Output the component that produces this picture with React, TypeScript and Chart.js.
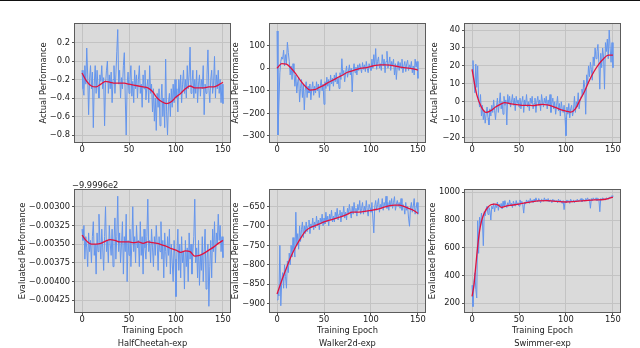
import { useEffect, useRef } from "react";
import { Chart, registerables } from "chart.js";

Chart.register(...registerables);

const FONT = "'DejaVu Sans', 'Liberation Sans', sans-serif";
const MINUS = "\u2212";
const BG = "#dadada";
const GRID = "#c3c3c3";
const TEXT = "#222222";
const BLUE = "#6495ed";
const RED = "#e0123f";

// ---------- data ----------
const EPOCHS = Array.from({ length: 151 }, (_, i) => i);
const X_TICKS = [0, 50, 100, 150];
const SMOOTH_EPOCHS = [0, 5, 10, 15, 20, 25, 30, 35, 40, 45, 50, 55, 60, 65, 70, 75, 80, 85, 90, 95, 100, 105, 110, 115, 120, 125, 130, 135, 140, 145, 150];
const SWIM_EVAL_SMOOTH_EPOCHS = [0, 2, 4, 6, 8, 10, 13, 16, 20, 24, 28, 31, 35, 40, 50, 60, 70, 80, 90, 100, 110, 120, 130, 140, 145, 150];

const X_LABEL = "Training Epoch";
const TASKS = ["HalfCheetah-exp", "Walker2d-exp", "Swimmer-exp"];
const Y_LABEL_TOP = "Actual Performance";
const Y_LABEL_BOTTOM = "Evaluated Performance";
const HC_EVAL_OFFSET = "\u22129.9996e2";

const HC_ACTUAL = [
  -0.10, -0.30, -0.37, -0.05, -0.25, 0.14, -0.15, -0.58, -0.20, -0.05,
  -0.30, -0.12, -0.72, -0.25, -0.05, -0.35, -0.10, -0.28, -0.40, -0.15,
  -0.22, -0.05, -0.30, -0.18, -0.70, -0.25, -0.10, 0.00, -0.35, -0.15,
  -0.30, -0.12, -0.45, -0.20, -0.05, -0.35, -0.15, 0.10, 0.34, -0.25,
  -0.10, -0.40, -0.18, -0.30, -0.05, 0.09, -0.40, -0.80, -0.25, -0.12,
  -0.35, -0.20, -0.05, -0.38, -0.22, -0.45, -0.10, -0.30, -0.15, -0.40,
  -0.20, -0.05, -0.35, -0.25, -0.50, -0.15, -0.30, -0.10, -0.42, -0.28,
  -0.20, -0.45, -0.05, -0.35, -0.25, -0.55, -0.30, -0.65, -0.40, -0.75,
  -0.35, -0.50, -0.30, -0.70, -0.45, -0.25, -0.60, -0.40, -0.72, 0.02,
  -0.55, -0.80, -0.45, -0.35, -0.60, -0.30, -0.50, -0.25, -0.45, -0.20,
  -0.40, -0.30, -0.55, -0.20, -0.35, -0.15, -0.45, -0.25, -0.10, -0.35,
  -0.20, -0.40, -0.05, -0.30, -0.15, 0.15, -0.35, -0.25, -0.10, -0.40,
  -0.20, -0.35, -0.10, -0.45, -0.25, -0.15, -0.38, -0.20, -0.30, -0.05,
  -0.58, -0.25, -0.35, -0.15, 0.12, -0.30, -0.45, -0.20, -0.10, -0.35,
  -0.25, 0.05, -0.40, -0.15, -0.30, -0.10, -0.35, -0.20, -0.45, -0.25, -0.46,
];
const HC_ACTUAL_SMOOTH = [
  -0.13, -0.22, -0.27, -0.28, -0.25, -0.22, -0.23, -0.24, -0.24, -0.24,
  -0.25, -0.26, -0.27, -0.28, -0.29, -0.33, -0.40, -0.44, -0.46, -0.44,
  -0.39, -0.35, -0.30, -0.27, -0.29, -0.29, -0.29, -0.28, -0.28, -0.26, -0.23,
];
const HC_ACTUAL_TICKS = [0.2, 0.0, -0.2, -0.4, -0.6, -0.8];

const WK_ACTUAL = [
  165, -296, -150, -20, 30, 50, 40, 80, 10, 60,
  20, 115, 70, 30, -30, 10, -50, 20, -20, -80,
  -30, -110, -60, -40, -150, -90, -50, -130, -70, -185,
  -100, -60, -130, -80, -110, -70, -140, -90, -60, -120,
  -80, -110, -60, -100, -70, -130, -80, -50, -100, -70,
  -160, -60, -90, -40, -80, -50, -100, -30, -70, -45,
  -80, -30, -60, -20, -70, -40, -90, -20, -50, 42,
  -30, -10, -60, -20, 10, -40, -15, 15, -30, 0,
  -105, -10, 20, -20, 5, -30, 15, -10, 20, 0,
  -20, 25, -5, 15, -15, 30, 0, -20, 20, 5,
  -10, 40, 0, 60, 10, 87, -5, 30, 50, 0,
  20, -10, 60, 10, 40, -20, 30, 75, 0, 20,
  50, -10, 30, 10, 40, -30, 20, -50, 10, 30,
  -10, 25, 0, 40, -20, 10, 30, -15, 20, 35,
  -10, 15, 0, 30, -20, 10, -30, 40, 5, 30, -45,
];
const WK_ACTUAL_SMOOTH = [
  0, 20, 18, 0, -25, -55, -80, -97, -95, -85,
  -75, -62, -52, -40, -30, -18, -12, -5, 0, 3,
  8, 13, 15, 15, 14, 10, 6, 3, 0, -3, -8,
];
const WK_ACTUAL_TICKS = [100, 0, -100, -200, -300];

const SW_ACTUAL = [
  18, 23, 12, 5, 21, 8, 20, 2, -3, 4,
  -8, -2, -10, -5, -12, -7, -3, -9, -13, -4,
  -8, -2, -6, 1, -5, -10, -3, 2, -6, -1,
  5, -4, 0, -7, 3, -2, 1, -13, 4, -1,
  3, -3, 0, 4, -2, 2, -5, 3, -1, 1,
  -3, 2, -4, 0, 3, -6, 1, -2, 4, -3,
  0, -5, 2, -1, 3, -4, -1, 2, -6, 0,
  3, -2, 1, -5, 4, 0, -3, 2, -1, 3,
  -4, 1, -2, 4, -6, -1, 2, -4, 0, -7,
  -2, 3, -5, -1, -8, 0, -4, -6, -2, -9,
  -19, -3, -7, -1, -9, -4, -2, -8, -5, 3,
  -6, 0, -3, 5, -4, 1, 3, 7, 4, 12,
  8, -7, 15, 10, 20, 14, 22, 18, 12, 25,
  20, 30, 24, 28, 32, 22, 7, 27, 19, 30,
  25, 7, 33, 28, 35, 24, 40, 30, 22, 33, 19,
];
const SW_ACTUAL_SMOOTH = [
  18, 4, -3, -6, -5, -3, -1.5, -0.5, -1, -1.5,
  -1.8, -2, -2, -2.2, -1.8, -1.5, -1.8, -2.5, -3.5, -4.5,
  -5.2, -5.8, -4, 1, 6, 12, 17, 21, 24, 26, 26,
];
const SW_ACTUAL_TICKS = [40, 30, 20, 10, 0, -10, -20];

// HalfCheetah evaluated performance, shown relative to -9.9996e2
const HC_EVAL = [
  -0.00330, -0.00345, -0.00325, -0.00370, -0.00340, -0.00355, -0.00380, -0.00335, -0.00360, -0.00345,
  -0.00375, -0.00340, -0.00320, -0.00365, -0.00350, -0.00390, -0.00335, -0.00360, -0.00310, -0.00345,
  -0.00370, -0.00330, -0.00355, -0.00385, -0.00340, -0.00300, -0.00360, -0.00345, -0.00375, -0.00325,
  -0.00350, -0.00365, -0.00330, -0.00380, -0.00345, -0.00315, -0.00370, -0.00340, -0.00286, -0.00360,
  -0.00335, -0.00375, -0.00350, -0.00320, -0.00390, -0.00340, -0.00360, -0.00310, -0.00400, -0.00345,
  -0.00365, -0.00330, -0.00380, -0.00350, -0.00300, -0.00360, -0.00340, -0.00375, -0.00325, -0.00355,
  -0.00345, -0.00380, -0.00320, -0.00365, -0.00340, -0.00390, -0.00330, -0.00355, -0.00370, -0.00340,
  -0.00290, -0.00360, -0.00345, -0.00375, -0.00330, -0.00355, -0.00380, -0.00340, -0.00365, -0.00325,
  -0.00350, -0.00385, -0.00340, -0.00360, -0.00320, -0.00370, -0.00345, -0.00395, -0.00335, -0.00360,
  -0.00380, -0.00340, -0.00365, -0.00330, -0.00390, -0.00350, -0.00375, -0.00400, -0.00345, -0.00370,
  -0.00420, -0.00360, -0.00330, -0.00385, -0.00350, -0.00395, -0.00340, -0.00375, -0.00360, -0.00410,
  -0.00345, -0.00380, -0.00355, -0.00400, -0.00335, -0.00370, -0.00350, -0.00390, -0.00360, -0.00340,
  -0.00290, -0.00375, -0.00355, -0.00395, -0.00345, -0.00405, -0.00365, -0.00385, -0.00340, -0.00400,
  -0.00360, -0.00330, -0.00410, -0.00370, -0.00350, -0.00433, -0.00380, -0.00345, -0.00395, -0.00330,
  -0.00360, -0.00320, -0.00375, -0.00335, -0.00350, -0.00310, -0.00345, -0.00325, -0.00360, -0.00340, -0.00368,
];
const HC_EVAL_SMOOTH = [
  -0.00338, -0.00346, -0.00350, -0.00350, -0.00349, -0.00346, -0.00344, -0.00345, -0.00347, -0.00347,
  -0.00347, -0.00348, -0.00347, -0.00349, -0.00347, -0.00348, -0.00349, -0.00351, -0.00353, -0.00356,
  -0.00358, -0.00361, -0.00359, -0.00360, -0.00366, -0.00365, -0.00362, -0.00358, -0.00354, -0.00349, -0.00345,
];
const HC_EVAL_TICKS = [-0.003, -0.00325, -0.0035, -0.00375, -0.004, -0.00425];

const WK_EVAL = [
  -890, -870, -880, -750, -905, -840, -820, -860, -800, -830,
  -860, -790, -820, -770, -800, -750, -780, -730, -760, -780,
  -665, -750, -720, -760, -700, -740, -710, -690, -730, -700,
  -720, -690, -715, -700, -685, -720, -695, -705, -680, -710,
  -690, -705, -675, -700, -685, -710, -680, -695, -670, -700,
  -680, -695, -665, -690, -675, -700, -670, -685, -660, -690,
  -675, -690, -665, -680, -655, -685, -670, -660, -690, -665,
  -675, -650, -680, -665, -685, -655, -670, -645, -665, -680,
  -650, -670, -640, -665, -655, -675, -645, -660, -635, -670,
  -655, -640, -670, -650, -665, -635, -660, -675, -645, -655,
  -665, -640, -680, -718, -650, -635, -660, -645, -630, -665,
  -645, -655, -630, -660, -640, -650, -624, -655, -640, -660,
  -635, -650, -630, -655, -640, -625, -660, -645, -635, -650,
  -640, -655, -630, -660, -645, -650, -670, -640, -660, -650,
  -680, -701, -655, -640, -665, -650, -630, -670, -655, -640, -670,
];
const WK_EVAL_SMOOTH = [
  -875, -840, -808, -778, -753, -732, -714, -705, -700, -695,
  -690, -686, -683, -679, -675, -670, -665, -665, -664, -662,
  -660, -658, -655, -651, -648, -647, -647, -650, -655, -660, -668,
];
const WK_EVAL_TICKS = [-650, -700, -750, -800, -850, -900];

const SW_EVAL = [
  330, 176, 350, 420, 300, 238, 795, 560, 820, 750,
  850, 800, 615, 860, 830, 880, 900, 840, 890, 870,
  800, 900, 880, 920, 860, 910, 890, 930, 870, 915,
  895, 920, 880, 935, 900, 940, 910, 890, 925, 900,
  945, 905, 920, 890, 935, 915, 900, 940, 910, 925,
  900, 945, 920, 935, 910, 850, 930, 915, 945, 925,
  940, 920, 955, 930, 945, 925, 950, 935, 960, 940,
  930, 955, 940, 925, 950, 945, 935, 960, 940, 950,
  935, 955, 930, 945, 940, 925, 950, 935, 945, 930,
  940, 925, 950, 935, 945, 930, 920, 940, 875, 935,
  925, 945, 930, 940, 920, 950, 935, 930, 945, 925,
  940, 930, 950, 935, 945, 940, 955, 930, 950, 945,
  935, 955, 945, 960, 940, 950, 885, 955, 940, 960,
  950, 945, 960, 940, 955, 950, 860, 955, 945, 960,
  955, 950, 945, 960, 955, 950, 965, 960, 970, 975, 970,
];
const SW_EVAL_SMOOTH = [
  250, 330, 470, 610, 720, 790, 850, 885, 910, 915, 908, 892, 898, 905, 915, 928,
  938, 940, 935, 930, 935, 940, 945, 948, 955, 965,
];
const SW_EVAL_TICKS = [1000, 800, 600, 400, 200];

// ---------- layout ----------
type Spec = {
  left: number;
  top: number;
  width: number;
  height: number;
  yWidth: number;
  xHeight: number;
  padTop: number;
  yMin: number;
  yMax: number;
  yTicks: number[];
  decimals: number;
  values: number[];
  smoothX: number[];
  smoothY: number[];
  yTitle: string;
  xTitle?: string[];
  offsetText?: string;
};

const FS = 8.3;

const TOP = { top: 17, height: 145, xHeight: 20, padTop: 2 };
const BOT = { top: 178, height: 173, xHeight: 39, padTop: 12 };

const SPECS: Spec[] = [
  { ...TOP, left: 39, width: 193, yWidth: 36, yMin: -0.875, yMax: 0.4, yTicks: HC_ACTUAL_TICKS, decimals: 1, values: HC_ACTUAL, smoothX: SMOOTH_EPOCHS, smoothY: HC_ACTUAL_SMOOTH, yTitle: Y_LABEL_TOP },
  { ...TOP, left: 231, width: 196, yWidth: 39, yMin: -327, yMax: 196, yTicks: WK_ACTUAL_TICKS, decimals: 0, values: WK_ACTUAL, smoothX: SMOOTH_EPOCHS, smoothY: WK_ACTUAL_SMOOTH, yTitle: Y_LABEL_TOP },
  { ...TOP, left: 430, width: 192, yWidth: 35, yMin: -22.5, yMax: 43.4, yTicks: SW_ACTUAL_TICKS, decimals: 0, values: SW_ACTUAL, smoothX: SMOOTH_EPOCHS, smoothY: SW_ACTUAL_SMOOTH, yTitle: Y_LABEL_TOP },
  { ...BOT, left: 18, width: 214, yWidth: 57, yMin: -0.004406, yMax: -0.002777, yTicks: HC_EVAL_TICKS, decimals: 5, values: HC_EVAL, smoothX: SMOOTH_EPOCHS, smoothY: HC_EVAL_SMOOTH, yTitle: Y_LABEL_BOTTOM, xTitle: [X_LABEL, TASKS[0]], offsetText: HC_EVAL_OFFSET },
  { ...BOT, left: 231, width: 196, yWidth: 39, yMin: -921, yMax: -608, yTicks: WK_EVAL_TICKS, decimals: 0, values: WK_EVAL, smoothX: SMOOTH_EPOCHS, smoothY: WK_EVAL_SMOOTH, yTitle: Y_LABEL_BOTTOM, xTitle: [X_LABEL, TASKS[1]] },
  { ...BOT, left: 428, width: 194, yWidth: 37, yMin: 137, yMax: 1016.6, yTicks: SW_EVAL_TICKS, decimals: 0, values: SW_EVAL, smoothX: SWIM_EVAL_SMOOTH_EPOCHS, smoothY: SW_EVAL_SMOOTH, yTitle: Y_LABEL_BOTTOM, xTitle: [X_LABEL, TASKS[2]] },
];

function fmt(v: number, d: number): string {
  const s = Number(v).toFixed(d);
  return s.startsWith("-") ? MINUS + s.slice(1) : s;
}

function Panel({ spec }: { spec: Spec }) {
  const ref = useRef<HTMLCanvasElement>(null);
  useEffect(() => {
    const canvas = ref.current;
    if (!canvas) return;
    const framePlugin = {
      id: "frame",
      beforeDraw(chart: any) {
        const { ctx, chartArea: a } = chart;
        ctx.save();
        ctx.fillStyle = BG;
        ctx.fillRect(a.left, a.top, a.right - a.left, a.bottom - a.top);
        ctx.restore();
      },
      afterDraw(chart: any) {
        const { ctx, chartArea: a } = chart;
        ctx.save();
        ctx.strokeStyle = "#5c5c5c";
        ctx.lineWidth = 1;
        ctx.strokeRect(Math.round(a.left) - 0.5, Math.round(a.top) - 0.5, Math.round(a.right - a.left) + 1, Math.round(a.bottom - a.top) + 1);
        if (spec.offsetText) {
          ctx.fillStyle = TEXT;
          ctx.font = `${FS}px ${FONT}`;
          ctx.textAlign = "left";
          ctx.textBaseline = "middle";
          ctx.fillText(spec.offsetText, a.left - 3, a.top - 4);
        }
        ctx.restore();
      },
    };
    const gridOpts = { color: GRID, lineWidth: 1, drawTicks: true, tickLength: 3, tickColor: "#555555", tickWidth: 1 };
    const chart = new Chart(canvas, {
      type: "line",
      data: {
        datasets: [
          {
            data: spec.smoothX.map((x, i) => ({ x, y: spec.smoothY[i] })),
            borderColor: RED,
            borderWidth: 1.3,
            pointRadius: 0,
            tension: 0.4,
            cubicInterpolationMode: "monotone",
            order: 0,
          },
          {
            data: EPOCHS.map((x, i) => ({ x, y: spec.values[i] })),
            borderColor: BLUE,
            borderWidth: 1,
            pointRadius: 0,
            tension: 0,
            order: 1,
          },
        ],
      } as any,
      options: {
        responsive: false,
        animation: false,
        devicePixelRatio: 1,
        events: [],
        layout: { padding: { top: spec.padTop, right: 2, left: 0, bottom: 0 } },
        plugins: { legend: { display: false }, tooltip: { enabled: false } },
        scales: {
          x: {
            type: "linear",
            min: -7.5,
            max: 157.5,
            afterBuildTicks: (s: any) => {
              s.ticks = X_TICKS.map((v) => ({ value: v }));
            },
            afterFit: (s: any) => {
              s.height = spec.xHeight;
            },
            grid: gridOpts,
            border: { display: false },
            ticks: { font: { family: FONT, size: FS }, color: TEXT, padding: 0, maxRotation: 0, autoSkip: false, callback: (v: any) => String(v) },
            title: spec.xTitle
              ? { display: true, text: spec.xTitle, font: { family: FONT, size: FS, lineHeight: 1.55 }, color: TEXT, padding: { top: 0, bottom: 1 } }
              : { display: false },
          },
          y: {
            type: "linear",
            min: spec.yMin,
            max: spec.yMax,
            afterBuildTicks: (s: any) => {
              s.ticks = spec.yTicks.map((v) => ({ value: v }));
            },
            afterFit: (s: any) => {
              s.width = spec.yWidth;
            },
            grid: gridOpts,
            border: { display: false },
            ticks: { font: { family: FONT, size: FS }, color: TEXT, padding: 2, autoSkip: false, callback: (v: any) => fmt(v, spec.decimals) },
            title: { display: true, text: spec.yTitle, font: { family: FONT, size: FS, lineHeight: 1.2 }, color: TEXT, padding: 0 },
          },
        },
      } as any,
      plugins: [framePlugin],
    });
    return () => chart.destroy();
  }, [spec]);
  return (
    <canvas
      ref={ref}
      width={spec.width}
      height={spec.height}
      style={{ position: "absolute", left: spec.left, top: spec.top, width: spec.width, height: spec.height }}
    />
  );
}

export default function App() {
  useEffect(() => {
    document.body.style.margin = "0";
    document.body.style.overflow = "hidden";
  }, []);
  return (
    <div style={{ position: "absolute", left: 0, top: 0, width: 640, height: 348, overflow: "hidden", background: "#ffffff" }}>
      <div style={{ position: "absolute", left: 0, top: 0, width: 640, height: 1, background: "#111111" }} />
      {SPECS.map((s, i) => (
        <Panel key={i} spec={s} />
      ))}
    </div>
  );
}
